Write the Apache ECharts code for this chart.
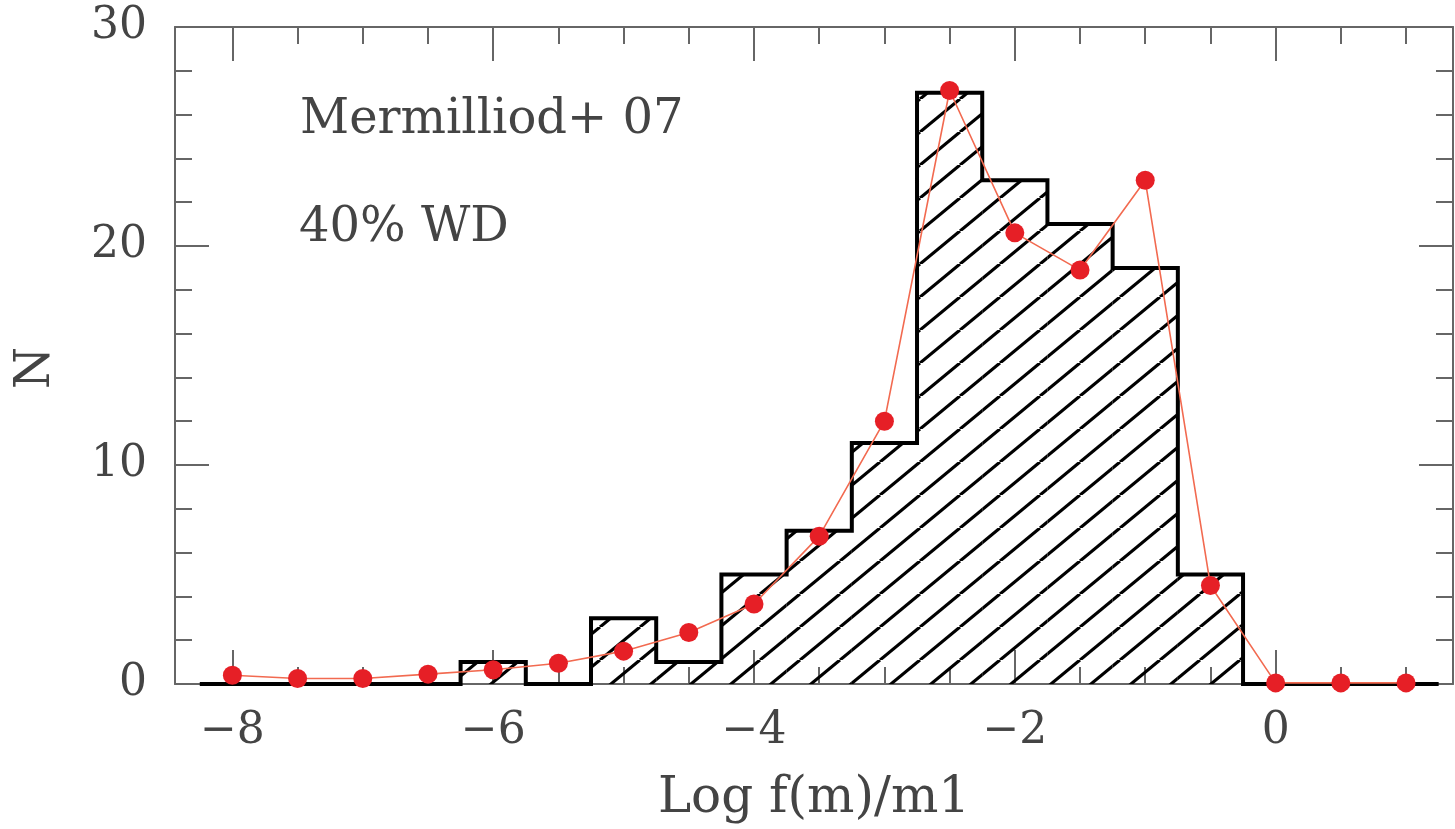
<!DOCTYPE html>
<html>
<head>
<meta charset="utf-8">
<script src="https://cdn.jsdelivr.net/npm/echarts@6/dist/echarts.min.js"></script>
<style>
html,body{margin:0;padding:0;background:#fff;}
#chart{width:1455px;height:829px;}
</style>
</head>
<body>
<div id="chart"></div>
<script>
// ---- data ----
const binCenters = [-8, -7.5, -7, -6.5, -6, -5.5, -5, -4.5, -4, -3.5, -3, -2.5, -2, -1.5, -1, -0.5, 0, 0.5, 1];
const histCounts = [0, 0, 0, 0, 1, 0, 3, 1, 5, 7, 11, 27, 23, 21, 19, 5, 0, 0, 0];
const modelCounts = [0.4, 0.25, 0.25, 0.45, 0.65, 0.95, 1.5, 2.35, 3.65, 6.75, 12.0, 27.1, 20.6, 18.9, 23.0, 4.5, 0.05, 0.05, 0.05];
const binWidth = 0.5;
const xMajorTicks = [-8, -6, -4, -2, 0];
const xMinorTicks = [-8, -7.5, -7, -6.5, -6, -5.5, -5, -4.5, -4, -3.5, -3, -2.5, -2, -1.5, -1, -0.5, 0, 0.5, 1];
const yMajorTicks = [0, 10, 20, 30];
const yMinorTicks = [0, 2, 4, 6, 8, 10, 12, 14, 16, 18, 20, 22, 24, 26, 28, 30];
const xTitle = 'Log f(m)/m1';
const yTitle = 'N';
const notes = ['Mermilliod+ 07', '40% WD'];

// ---- hatch pattern ----
function makeHatch(w, h, lw) {
  const c = document.createElement('canvas');
  c.width = w; c.height = h;
  const ctx = c.getContext('2d');
  ctx.strokeStyle = '#000';
  ctx.lineWidth = lw;
  for (let k = -1; k <= 1; k++) {
    ctx.beginPath();
    ctx.moveTo(k * w, h);
    ctx.lineTo(k * w + w, 0);
    ctx.stroke();
  }
  return c;
}
const hatchCanvas = makeHatch(40, 33, 3.2);

const histData = binCenters.map((x, i) => [x, histCounts[i]]);
const stepData = [[binCenters[0] - binWidth / 2, 0]].concat(histData, [[binCenters[binCenters.length - 1] + binWidth / 2, 0]]);
const modelData = binCenters.map((x, i) => [x, modelCounts[i]]);

const FONT = 'DejaVu Serif';
const TXT = '#444';
const FRAME = '#666';
const X_MIN = -8.44, X_MAX = 1.36;

function xAx(pos, ticks, len, withLabel, showLine) {
  return {
    type: 'value', position: pos, min: X_MIN, max: X_MAX,
    axisLine: { show: showLine, onZero: false, lineStyle: { color: FRAME, width: 2 } },
    axisTick: { show: true, inside: true, length: len, customValues: ticks, lineStyle: { color: FRAME, width: 2 } },
    axisLabel: withLabel ? {
      show: true, customValues: ticks, margin: 26, color: TXT, fontFamily: FONT, fontSize: 44,
      formatter: v => (v < 0 ? '\u2212' + Math.abs(v) : String(v))
    } : { show: false },
    splitLine: { show: false }
  };
}
function yAx(pos, ticks, len, withLabel, showLine) {
  return {
    type: 'value', position: pos, min: 0, max: 30,
    axisLine: { show: showLine, onZero: false, lineStyle: { color: FRAME, width: 2 } },
    axisTick: { show: true, inside: true, length: len, customValues: ticks, lineStyle: { color: FRAME, width: 2 } },
    axisLabel: withLabel ? {
      show: true, customValues: ticks, margin: 28, color: TXT, fontFamily: FONT, fontSize: 44
    } : { show: false },
    splitLine: { show: false }
  };
}

const xAxes = [
  xAx('bottom', xMajorTicks, 34, true, true),
  xAx('bottom', xMinorTicks, 17, false, false),
  xAx('top', xMajorTicks, 34, false, true),
  xAx('top', xMinorTicks, 17, false, false)
];
xAxes[0].name = xTitle;
xAxes[0].nameLocation = 'middle';
xAxes[0].nameGap = 90;
xAxes[0].nameTextStyle = { color: TXT, fontFamily: FONT, fontSize: 50 };

const yAxes = [
  yAx('left', yMajorTicks, 34, true, true),
  yAx('left', yMinorTicks, 17, false, false),
  yAx('right', yMajorTicks, 34, false, true),
  yAx('right', yMinorTicks, 17, false, false)
];

const chart = echarts.init(document.getElementById('chart'));
chart.setOption({
  animation: false,
  backgroundColor: '#fff',
  grid: { left: 175, right: 2, top: 27, bottom: 141, containLabel: false },
  xAxis: xAxes,
  yAxis: yAxes,
  graphic: [
    { type: 'text', left: 300, top: 97, style: { text: notes[0], fill: TXT, font: '48px "DejaVu Serif"' } },
    { type: 'text', left: 299, top: 205, style: { text: notes[1], fill: TXT, font: '48px "DejaVu Serif"' } },
    { type: 'text', x: 37, y: 368, rotation: Math.PI / 2,
      style: { text: yTitle, fill: TXT, font: '48px "DejaVu Serif"', align: 'center', verticalAlign: 'middle' } }
  ],
  series: [
    {
      type: 'custom',
      xAxisIndex: 0, yAxisIndex: 0,
      data: histData,
      z: 2,
      renderItem: function (params, api) {
        const x = api.value(0), h = api.value(1);
        if (h <= 0) return null;
        const p0 = api.coord([x - binWidth / 2, h]);
        const p1 = api.coord([x + binWidth / 2, 0]);
        return {
          type: 'rect',
          shape: { x: p0[0], y: p0[1], width: p1[0] - p0[0], height: p1[1] - p0[1] },
          style: { fill: { image: hatchCanvas, repeat: 'repeat' }, stroke: null }
        };
      }
    },
    {
      type: 'line',
      xAxisIndex: 0, yAxisIndex: 0,
      data: stepData,
      step: 'middle',
      symbol: 'none',
      z: 3,
      lineStyle: { color: '#000', width: 4, join: 'miter' }
    },
    {
      type: 'line',
      xAxisIndex: 0, yAxisIndex: 0,
      data: modelData,
      symbol: 'circle',
      symbolSize: 19,
      z: 4,
      itemStyle: { color: '#e61f26' },
      lineStyle: { color: '#f26a50', width: 1.6 }
    }
  ]
});
</script>
</body>
</html>
